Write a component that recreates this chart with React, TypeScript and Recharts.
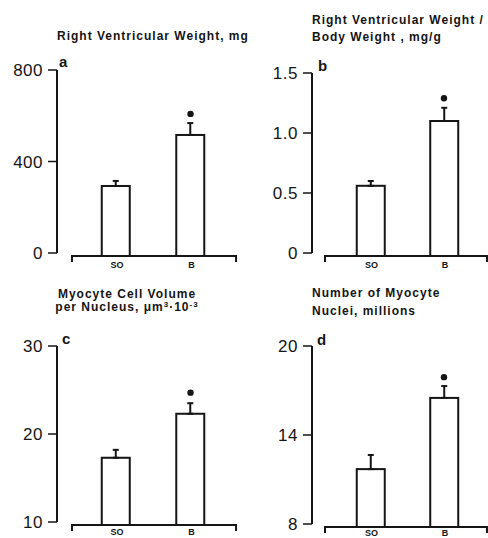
import { ComposedChart, Bar, ErrorBar, Scatter, XAxis, YAxis, ReferenceLine } from 'recharts'

const groups = ['SO', 'B']
const positions = [1, 2]

// a: right ventricular weight, mg
const rvWeight = [293, 516]
const rvWeightErr = [22, 52]
const rvWeightSig = 608
const rvWeightTicks = [0, 400, 800]

// b: RV weight / body weight, mg/g
const rvRatio = [0.56, 1.1]
const rvRatioErr = [0.04, 0.11]
const rvRatioSig = 1.29
const rvRatioTicks = [0, 0.5, 1.0, 1.5]

// c: myocyte cell volume per nucleus
const cellVolume = [17.3, 22.3]
const cellVolumeErr = [0.9, 1.2]
const cellVolumeSig = 24.7
const cellVolumeTicks = [10, 20, 30]

// d: number of myocyte nuclei, millions
const nuclei = [11.7, 16.5]
const nucleiErr = [0.95, 0.8]
const nucleiSig = 17.9
const nucleiTicks = [8, 14, 20]

const INK = '#151515'
const FONT = '"Liberation Sans", Arial, Helvetica, sans-serif'

const layouts: Record<string, any> = {
  left: { yAxisWidth: 57, domain: [0.208, 2.664], base: [0.409, 2.611], right: 4 },
  right: { yAxisWidth: 68, domain: [0.204, 2.599], base: [0.381, 2.585], right: 0 },
}

const panels = [
  { key: 'a', left: 0, top: 0, layout: 'left', marginTop: 70, xh: 17, labelDy: 13, means: rvWeight, errs: rvWeightErr, sig: rvWeightSig, ticks: rvWeightTicks, fmt: (v: number) => String(v) },
  { key: 'b', left: 244, top: 0, layout: 'right', marginTop: 73, xh: 17, labelDy: 13, means: rvRatio, errs: rvRatioErr, sig: rvRatioSig, ticks: rvRatioTicks, fmt: (v: number) => (v === 0 ? '0' : v.toFixed(1)) },
  { key: 'c', left: 0, top: 270, layout: 'left', marginTop: 76, xh: 18, labelDy: 11, means: cellVolume, errs: cellVolumeErr, sig: cellVolumeSig, ticks: cellVolumeTicks, fmt: (v: number) => String(v) },
  { key: 'd', left: 244, top: 270, layout: 'right', marginTop: 76, xh: 16, labelDy: 10, means: nuclei, errs: nucleiErr, sig: nucleiSig, ticks: nucleiTicks, fmt: (v: number) => String(v) },
]

function Panel({ p }: { p: any }) {
  const lay = layouts[p.layout]
  const rows = positions.map((pos, i) => ({ pos, label: groups[i], mean: p.means[i], err: [0, p.errs[i]] }))
  const sigRows = [{ pos: positions[1], sig: p.sig }]
  const yMin = p.ticks[0]
  const yMax = p.ticks[p.ticks.length - 1]

  return (
    <div style={{ position: 'absolute', left: p.left, top: p.top }}>
      <ComposedChart width={244} height={270} data={rows} margin={{ top: p.marginTop, right: lay.right, bottom: 0, left: 0 }}>
        <XAxis
          type="number"
          dataKey="pos"
          domain={lay.domain}
          ticks={positions}
          axisLine={false}
          tickLine={false}
          tickSize={0}
          height={p.xh}
          tick={({ x, y, payload }: any) => (
            <text x={x + 1} y={y + p.labelDy} textAnchor="middle" fontSize={9} fontWeight="bold" fill={INK} fontFamily={FONT}>
              {groups[positions.indexOf(payload.value)]}
            </text>
          )}
        />
        <YAxis
          type="number"
          domain={[yMin, yMax]}
          ticks={p.ticks}
          width={lay.yAxisWidth}
          axisLine={{ stroke: INK, strokeWidth: 2 }}
          tickLine={{ stroke: INK, strokeWidth: 1.5 }}
          tickSize={9}
          tickMargin={5}
          tickFormatter={p.fmt}
          tick={{ fontSize: 17, fill: INK, fontFamily: FONT, letterSpacing: 0.5 }}
        />
        <ReferenceLine
          segment={[{ x: lay.base[0], y: yMin }, { x: lay.base[1], y: yMin }]}
          ifOverflow="visible"
          shape={(s: any) => (
            <path d={`M${s.x1},${s.y1 + 9} V${s.y1 + 3} H${s.x2} V${s.y2 + 9}`} fill="none" stroke={INK} strokeWidth={2} />
          )}
        />
        <Bar
          dataKey="mean"
          barSize={28}
          isAnimationActive={false}
          shape={(b: any) => (
            <rect x={b.x} y={b.y} width={b.width} height={b.height + 3} fill="#fff" stroke={INK} strokeWidth={2} />
          )}
        >
          <ErrorBar dataKey="err" direction="y" width={3} stroke={INK} strokeWidth={2} isAnimationActive={false} />
        </Bar>
        <Scatter
          data={sigRows}
          dataKey="sig"
          isAnimationActive={false}
          shape={(d: any) => <circle cx={d.cx} cy={d.cy} r={3.2} fill={INK} />}
        />
      </ComposedChart>
    </div>
  )
}

export default function App() {
  const title = { fontFamily: FONT, fontSize: 12, fontWeight: 'bold' as const, fill: INK, letterSpacing: 1 }
  const letter = { fontFamily: FONT, fontSize: 15, fontWeight: 'bold' as const, fill: INK }
  return (
    <div style={{ position: 'absolute', left: 0, top: 0, width: 488, height: 538, background: '#fff', overflow: 'hidden' }}>
      {panels.map(p => (
        <Panel key={p.key} p={p} />
      ))}
      <svg width={488} height={538} style={{ position: 'absolute', left: 0, top: 0, pointerEvents: 'none' }}>
        <text x={57} y={39.5} {...title}>Right Ventricular Weight, mg</text>
        <text x={312} y={24} {...title}>Right Ventricular Weight /</text>
        <text x={312} y={40.5} {...title}>Body Weight , mg/g</text>
        <text x={127} y={298} textAnchor="middle" {...title}>Myocyte Cell Volume</text>
        <text x={127} y={311} textAnchor="middle" {...title}>
          per Nucleus, μm<tspan fontSize={8} dy={-4}>3</tspan>
          <tspan dy={4}>·10</tspan>
          <tspan fontSize={8} dy={-4}>-3</tspan>
        </text>
        <text x={312} y={297} {...title}>Number of Myocyte</text>
        <text x={312} y={315} {...title}>Nuclei, millions</text>
        <text x={59} y={67} {...letter}>a</text>
        <text x={318} y={71} {...letter}>b</text>
        <text x={62} y={344} {...letter}>c</text>
        <text x={317} y={345} {...letter}>d</text>
      </svg>
    </div>
  )
}
